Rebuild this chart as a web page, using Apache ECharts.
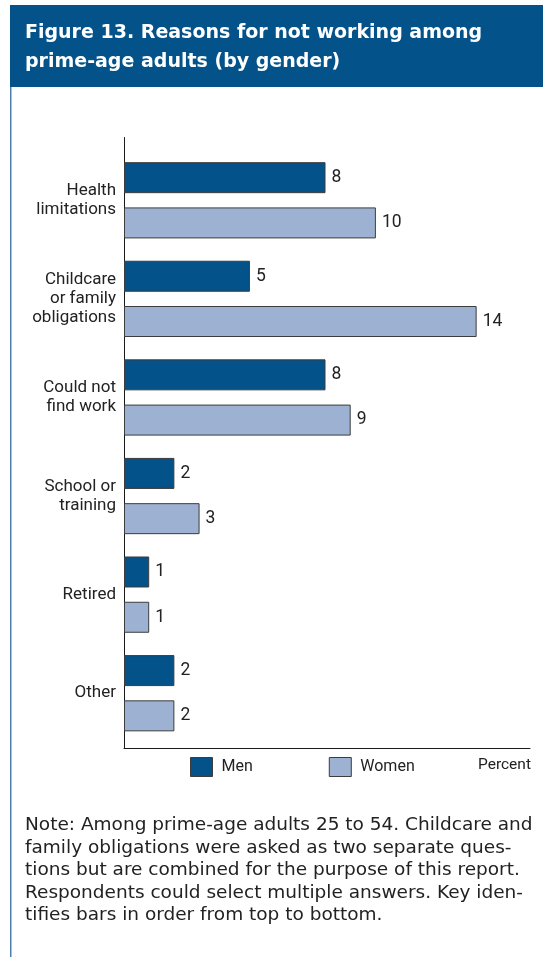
<!DOCTYPE html>
<html>
<head>
<meta charset="utf-8">
<script src="https://cdn.jsdelivr.net/npm/echarts@6/dist/echarts.min.js"></script>
<style>
  html, body { margin: 0; padding: 0; background: #fff; }
  #chart { width: 543px; height: 957px; }
</style>
</head>
<body>
<div id="chart"></div>
<script>
// Reasons for not working, share of prime-age adults (percent)
const categories = [
  'Health\nlimitations',
  'Childcare\nor family\nobligations',
  'Could not\nfind work',
  'School or\ntraining',
  'Retired',
  'Other'
];
const menValues = [8, 5, 8, 2, 1, 2];
const womenValues = [10, 14, 9, 3, 1, 2];
const seriesNames = ['Men', 'Women'];

const titleLines = [
  'Figure 13. Reasons for not working among',
  'prime-age adults (by gender)'
];
const noteLines = [
  'Note: Among prime-age adults 25 to 54. Childcare and',
  'family obligations were asked as two separate ques-',
  'tions but are combined for the purpose of this report.',
  'Respondents could select multiple answers. Key iden-',
  'tifies bars in order from top to bottom.'
];
const unitLabel = 'Percent';

const MEN_COLOR = '#03528a';
const WOMEN_COLOR = '#9db2d2';
const BORDER = '#3c3c3c';
const TEXT = '#222';
const NARROW = '"Liberation Sans Narrow", "Arial Narrow", Roboto, sans-serif';
const WIDE = '"DejaVu Sans", "Liberation Sans", sans-serif';

const chart = echarts.init(document.getElementById('chart'), null, { renderer: 'canvas' });

const barSeries = (name, data, color) => ({
  name: name,
  type: 'bar',
  xAxisIndex: 0,
  yAxisIndex: 0,
  data: data,
  barWidth: 31,
  barGap: '46%',
  itemStyle: { color: color, borderColor: BORDER, borderWidth: 1 },
  label: {
    show: true,
    position: 'right',
    distance: 6,
    color: TEXT,
    fontFamily: NARROW,
    fontSize: 17.5,
    padding: [3, 0, 0, 0]
  },
  emphasis: { disabled: true },
  silent: true
});

const option = {
  backgroundColor: '#fff',
  animation: false,
  grid: [
    { left: 124, right: 16, top: 151, bottom: 214.5 },
    { left: 124, right: 13, top: 137.5, bottom: 208.5 }
  ],
  xAxis: [
    {
      type: 'value', gridIndex: 0, min: 0, max: 16,
      show: false
    },
    {
      type: 'value', gridIndex: 1, min: 0, max: 1,
      axisLine: { show: true, lineStyle: { color: '#1a1a1a', width: 1 } },
      axisTick: { show: false }, axisLabel: { show: false }, splitLine: { show: false }
    }
  ],
  yAxis: [
    {
      type: 'category', gridIndex: 0, data: categories, inverse: true,
      axisLine: { show: false }, axisTick: { show: false }, splitLine: { show: false },
      axisLabel: {
        margin: 8,
        color: TEXT,
        fontFamily: NARROW,
        fontSize: 17,
        lineHeight: 19,
        align: 'right',
        padding: [8, 0, 0, 0]
      }
    },
    {
      type: 'value', gridIndex: 1, min: 0, max: 1,
      axisLine: { show: true, onZero: false, lineStyle: { color: '#1a1a1a', width: 1 } },
      axisTick: { show: false }, axisLabel: { show: false }, splitLine: { show: false }
    }
  ],
  legend: {
    data: seriesNames,
    left: 185,
    top: 752,
    itemWidth: 22,
    itemHeight: 19,
    itemGap: 76,
    icon: 'rect',
    selectedMode: false,
    itemStyle: { borderColor: BORDER, borderWidth: 1 },
    textStyle: { color: TEXT, fontFamily: NARROW, fontSize: 16, padding: [0, 0, 0, 4] }
  },
  graphic: [
    {
      type: 'rect',
      shape: { x: 10, y: 5, width: 533, height: 82 },
      style: { fill: '#03538a' },
      silent: true
    },
    {
      type: 'line',
      shape: { x1: 10.75, y1: 87, x2: 10.75, y2: 957 },
      style: { stroke: '#4a7fb0', lineWidth: 1.5 },
      silent: true
    },
    {
      type: 'text',
      left: 25, top: 19,
      style: {
        text: titleLines.join('\n'),
        fill: '#fff',
        font: 'bold 19px ' + WIDE,
        lineHeight: 28.5
      },
      silent: true
    },
    {
      type: 'text',
      left: 478, top: 757,
      style: { text: unitLabel, fill: TEXT, font: '15.5px ' + NARROW },
      silent: true
    },
    {
      type: 'text',
      left: 25, top: 814,
      style: {
        text: noteLines.join('\n'),
        fill: TEXT,
        font: '18.5px ' + WIDE,
        lineHeight: 22.5
      },
      silent: true
    }
  ],
  series: [
    barSeries(seriesNames[0], menValues, MEN_COLOR),
    barSeries(seriesNames[1], womenValues, WOMEN_COLOR)
  ]
};

chart.setOption(option);
</script>
</body>
</html>
